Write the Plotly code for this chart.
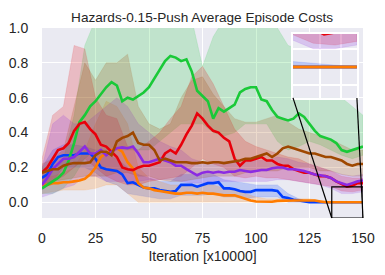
import plotly.graph_objects as go

# ---------------- data ----------------
STEP = 2.5
X = [i * STEP for i in range(61)]
XB = [i * 5 for i in range(31)]

blue = [0.14,0.16,0.22,0.26,0.27,0.27,0.27,0.28,0.28,0.28,0.25,0.20,0.19,0.185,0.18,0.16,0.11,0.115,0.10,0.085,
        0.08,0.08,0.07,0.065,0.06,0.065,0.10,0.10,0.10,0.09,0.10,0.11,0.11,0.115,0.08,0.08,0.075,0.065,0.06,0.06,
        0.07,0.07,0.07,0.07,0.065,0.03,0.025,0.015,0.01,0.005,0.0,0,0,0,0,0,0,0,0,0,0]
orange = [0.10,0.10,0.11,0.11,0.115,0.115,0.12,0.125,0.135,0.16,0.20,0.26,0.28,0.30,0.31,0.29,0.23,0.195,0.11,0.085,
          0.08,0.07,0.065,0.06,0.055,0.05,0.05,0.055,0.055,0.05,0.055,0.05,0.05,0.045,0.04,0.04,0.04,0.03,0.02,0.01,
          0.005,0.003,0.003,0.003,0.008,0.01,0.01,0.01,0.01,0.01,0.01,0.01,0.005,0,0,0,0,0,0,0,0]
green = [0.08,0.10,0.12,0.14,0.17,0.24,0.34,0.46,0.50,0.55,0.58,0.62,0.66,0.69,0.67,0.58,0.60,0.59,0.61,0.63,
         0.66,0.71,0.76,0.81,0.84,0.83,0.81,0.82,0.75,0.64,0.61,0.58,0.48,0.54,0.52,0.54,0.56,0.63,0.65,0.66,
         0.66,0.59,0.58,0.53,0.49,0.48,0.47,0.48,0.51,0.49,0.45,0.41,0.38,0.37,0.36,0.34,0.30,0.29,0.30,0.31,0.32]
red = [0.17,0.20,0.25,0.30,0.31,0.34,0.41,0.45,0.46,0.42,0.39,0.33,0.32,0.29,0.26,0.20,0.19,0.185,0.20,0.21,
       0.21,0.22,0.23,0.28,0.30,0.28,0.33,0.39,0.44,0.51,0.48,0.44,0.41,0.40,0.37,0.35,0.25,0.21,0.24,0.24,
       0.25,0.26,0.24,0.24,0.22,0.21,0.21,0.19,0.18,0.17,0.17,0.16,0.15,0.15,0.14,0.12,0.105,0.09,0.095,0.11,0.11]
purple = [0.10,0.14,0.19,0.22,0.25,0.25,0.26,0.29,0.32,0.28,0.28,0.30,0.27,0.29,0.31,0.315,0.31,0.32,0.28,0.23,
          0.23,0.24,0.25,0.24,0.23,0.21,0.21,0.19,0.17,0.155,0.17,0.175,0.17,0.175,0.17,0.175,0.175,0.185,0.18,0.175,
          0.18,0.185,0.185,0.195,0.20,0.20,0.19,0.19,0.185,0.18,0.17,0.16,0.155,0.15,0.14,0.12,0.11,0.10,0.11,0.12,0.125]
brown = [0.17,0.18,0.19,0.19,0.21,0.22,0.225,0.225,0.225,0.23,0.27,0.29,0.29,0.27,0.35,0.37,0.38,0.40,0.34,0.33,
         0.33,0.30,0.24,0.25,0.24,0.23,0.23,0.23,0.225,0.225,0.23,0.225,0.23,0.23,0.225,0.23,0.235,0.24,0.25,0.25,
         0.26,0.27,0.28,0.26,0.28,0.31,0.32,0.31,0.30,0.29,0.28,0.28,0.27,0.26,0.26,0.25,0.24,0.22,0.21,0.22,0.22]

blue_hi = [0.2,0.3,0.33,0.33,0.32,0.3,0.27,0.25,0.2,0.16,0.14,0.12,0.12,0.16,0.16,0.16,0.16,0.13,0.12,0.11,0.1,0.1,0.1,0.05,0.02,0.005,0,0,0,0,0]
blue_lo = [0.07,0.12,0.2,0.2,0.2,0.17,0.12,0.1,0.05,0.04,0.03,0.02,0.02,0.04,0.04,0.04,0.05,0.03,0.03,0.02,0.03,0.03,0.03,0,0,0,0,0,0,0,0]
orange_hi = [0.15,0.15,0.17,0.2,0.3,0.45,0.58,0.55,0.45,0.2,0.14,0.12,0.1,0.1,0.1,0.1,0.1,0.08,0.07,0.05,0.03,0.02,0.02,0.02,0.02,0.02,0.01,0.005,0.003,0.003,0.003]
orange_lo = [0.05,0.06,0.07,0.07,0.07,0.08,0.1,0.1,0.05,0,0,0,0,0,0,0,0,0,0,0,0,0,0,0,0,0,0,0,0,0,0]
green_hi = [0.2,0.2,0.25,0.5,0.9,1.05,1.05,1.05,1.05,1.05,1.05,1.05,1.05,1.05,1.05,0.78,0.95,1.05,1.05,1.05,1.05,1.05,1.0,0.9,0.88,0.85,0.75,0.65,0.6,0.55,0.5]
green_lo = [0.05,0.05,0.08,0.15,0.25,0.3,0.3,0.3,0.3,0.3,0.3,0.35,0.4,0.45,0.45,0.45,0.4,0.38,0.4,0.45,0.45,0.45,0.35,0.3,0.32,0.35,0.33,0.3,0.27,0.25,0.27]
red_hi = [0.25,0.5,0.55,0.9,0.88,0.6,0.5,0.48,0.32,0.3,0.35,0.4,0.48,0.55,0.72,0.78,0.68,0.55,0.42,0.35,0.32,0.3,0.28,0.26,0.25,0.22,0.2,0.18,0.15,0.14,0.14]
red_lo = [0.1,0.12,0.15,0.2,0.25,0.2,0.15,0.12,0.1,0.1,0.12,0.13,0.14,0.15,0.2,0.25,0.22,0.2,0.15,0.14,0.15,0.14,0.14,0.13,0.12,0.11,0.1,0.09,0.065,0.06,0.07]
purple_hi = [0.2,0.45,0.5,0.45,0.45,0.5,0.55,0.6,0.55,0.45,0.4,0.35,0.32,0.3,0.25,0.23,0.23,0.22,0.23,0.23,0.24,0.24,0.26,0.25,0.23,0.22,0.2,0.18,0.16,0.15,0.16]
purple_lo = [0.03,0.05,0.08,0.1,0.15,0.15,0.12,0.12,0.12,0.12,0.13,0.13,0.13,0.12,0.11,0.11,0.12,0.12,0.12,0.12,0.12,0.12,0.13,0.13,0.12,0.11,0.1,0.08,0.05,0.05,0.06]
brown_hi = [0.22,0.25,0.3,0.55,0.8,0.7,0.8,0.8,0.85,0.55,0.45,0.42,0.45,0.6,0.7,0.72,0.62,0.55,0.48,0.46,0.46,0.48,0.5,0.46,0.42,0.4,0.38,0.36,0.33,0.3,0.3]
brown_lo = [0.1,0.12,0.13,0.14,0.15,0.15,0.15,0.17,0.17,0.15,0.15,0.13,0.12,0.12,0.13,0.14,0.15,0.15,0.15,0.17,0.18,0.18,0.18,0.2,0.2,0.2,0.18,0.18,0.16,0.15,0.15]

x_ticks = [0, 25, 50, 75, 100, 125, 150]
y_ticks = [0.0, 0.2, 0.4, 0.6, 0.8, 1.0]

TITLE = "Hazards-0.15-Push Average Episode Costs"
XLABEL = "Iteration [x10000]"

# ---------------- style ----------------
series = [
    ("#023eff", blue, blue_hi, blue_lo),
    ("#ff7c00", orange, orange_hi, orange_lo),
    ("#1ac938", green, green_hi, green_lo),
    ("#e8000b", red, red_hi, red_lo),
    ("#8b2be2", purple, purple_hi, purple_lo),
    ("#9f4800", brown, brown_hi, brown_lo),
]

def rgba(h, a):
    h = h.lstrip("#")
    return "rgba(%d,%d,%d,%.2f)" % (int(h[0:2], 16), int(h[2:4], 16), int(h[4:6], 16), a)

XR = [0, 150]
YR = [-0.09, 1.0]
INS_X = [135.4, 150]
INS_Y = [-0.09, 0.089]
INS_VIEW_Y = [-0.085, 0.09]
INS_DOM_X = [0.782, 0.981]
INS_DOM_Y = [0.632, 0.968]

W, H = 369, 259  # page body has an 8px margin

fig = go.Figure()

for xa, ya, lw in (("x", "y", 2.6), ("x2", "y2", 3.0)):
    for col, ys, hi, lo in series:
        fig.add_trace(go.Scatter(x=XB + XB[::-1], y=hi + lo[::-1], fill="toself",
                                 fillcolor=rgba(col, 0.2), line=dict(width=0.5, color=rgba(col, 0.22)),
                                 hoverinfo="skip", showlegend=False, xaxis=xa, yaxis=ya))
    for col, ys, hi, lo in series:
        fig.add_trace(go.Scatter(x=X, y=ys, mode="lines", line=dict(color=col, width=lw),
                                 showlegend=False, xaxis=xa, yaxis=ya))

tickfont = dict(family="Liberation Sans, Arial, sans-serif", size=14, color="#262626")

fig.update_layout(
    width=W, height=H,
    margin=dict(l=34, r=14, t=20, b=49, autoexpand=False),
    paper_bgcolor="white", plot_bgcolor="#EAEAF2",
    title=dict(text=TITLE, x=0.526, xanchor="center", y=1 - 9 / H, yanchor="middle",
               font=dict(family="Liberation Sans, Arial, sans-serif", size=13.6, color="#262626")),
    xaxis=dict(range=XR, tickvals=x_ticks, showgrid=True, gridcolor="white", gridwidth=1.2,
               zeroline=False, showline=False, ticks="outside", ticklen=7, tickcolor="rgba(0,0,0,0)",
               tickfont=tickfont, domain=[0, 1], automargin=False,
               title=dict(text=XLABEL, font=tickfont, standoff=6)),
    yaxis=dict(range=YR, tickvals=y_ticks, tickformat=".1f", showgrid=True, gridcolor="white",
               gridwidth=1.2, zeroline=False, showline=False, ticks="outside", ticklen=10,
               tickcolor="rgba(0,0,0,0)", tickfont=tickfont, domain=[0, 1], automargin=False),
    xaxis2=dict(domain=INS_DOM_X, anchor="y2", range=INS_X, tickvals=[141.5, 146.3],
                showticklabels=False, showgrid=True, gridcolor="white", gridwidth=1.5, automargin=False,
                zeroline=False, showline=True, linecolor="white", linewidth=2, mirror=True, ticks=""),
    yaxis2=dict(domain=INS_DOM_Y, anchor="x2", range=INS_VIEW_Y, tickvals=[-0.05, 0.0, 0.05],
                showticklabels=False, showgrid=True, gridcolor="white", gridwidth=1.5, automargin=False,
                zeroline=False, showline=True, linecolor="white", linewidth=2, mirror=True, ticks=""),
)

# zoom rectangle and connector lines
fig.add_shape(type="rect", xref="x", yref="y", x0=INS_X[0], x1=INS_X[1], y0=INS_Y[0], y1=INS_Y[1],
              line=dict(color="black", width=1.2), layer="above")
fx0 = (INS_X[0] - XR[0]) / (XR[1] - XR[0])
fx1 = (INS_X[1] - XR[0]) / (XR[1] - XR[0])
fy0 = (INS_Y[0] - YR[0]) / (YR[1] - YR[0])
fig.add_shape(type="line", xref="paper", yref="paper", x0=INS_DOM_X[0], y0=INS_DOM_Y[0], x1=fx0, y1=fy0,
              line=dict(color="black", width=1.2), layer="above")
fig.add_shape(type="line", xref="paper", yref="paper", x0=INS_DOM_X[1], y0=INS_DOM_Y[0], x1=fx1, y1=fy0,
              line=dict(color="black", width=1.2), layer="above")

fig.write_html("out.html")
